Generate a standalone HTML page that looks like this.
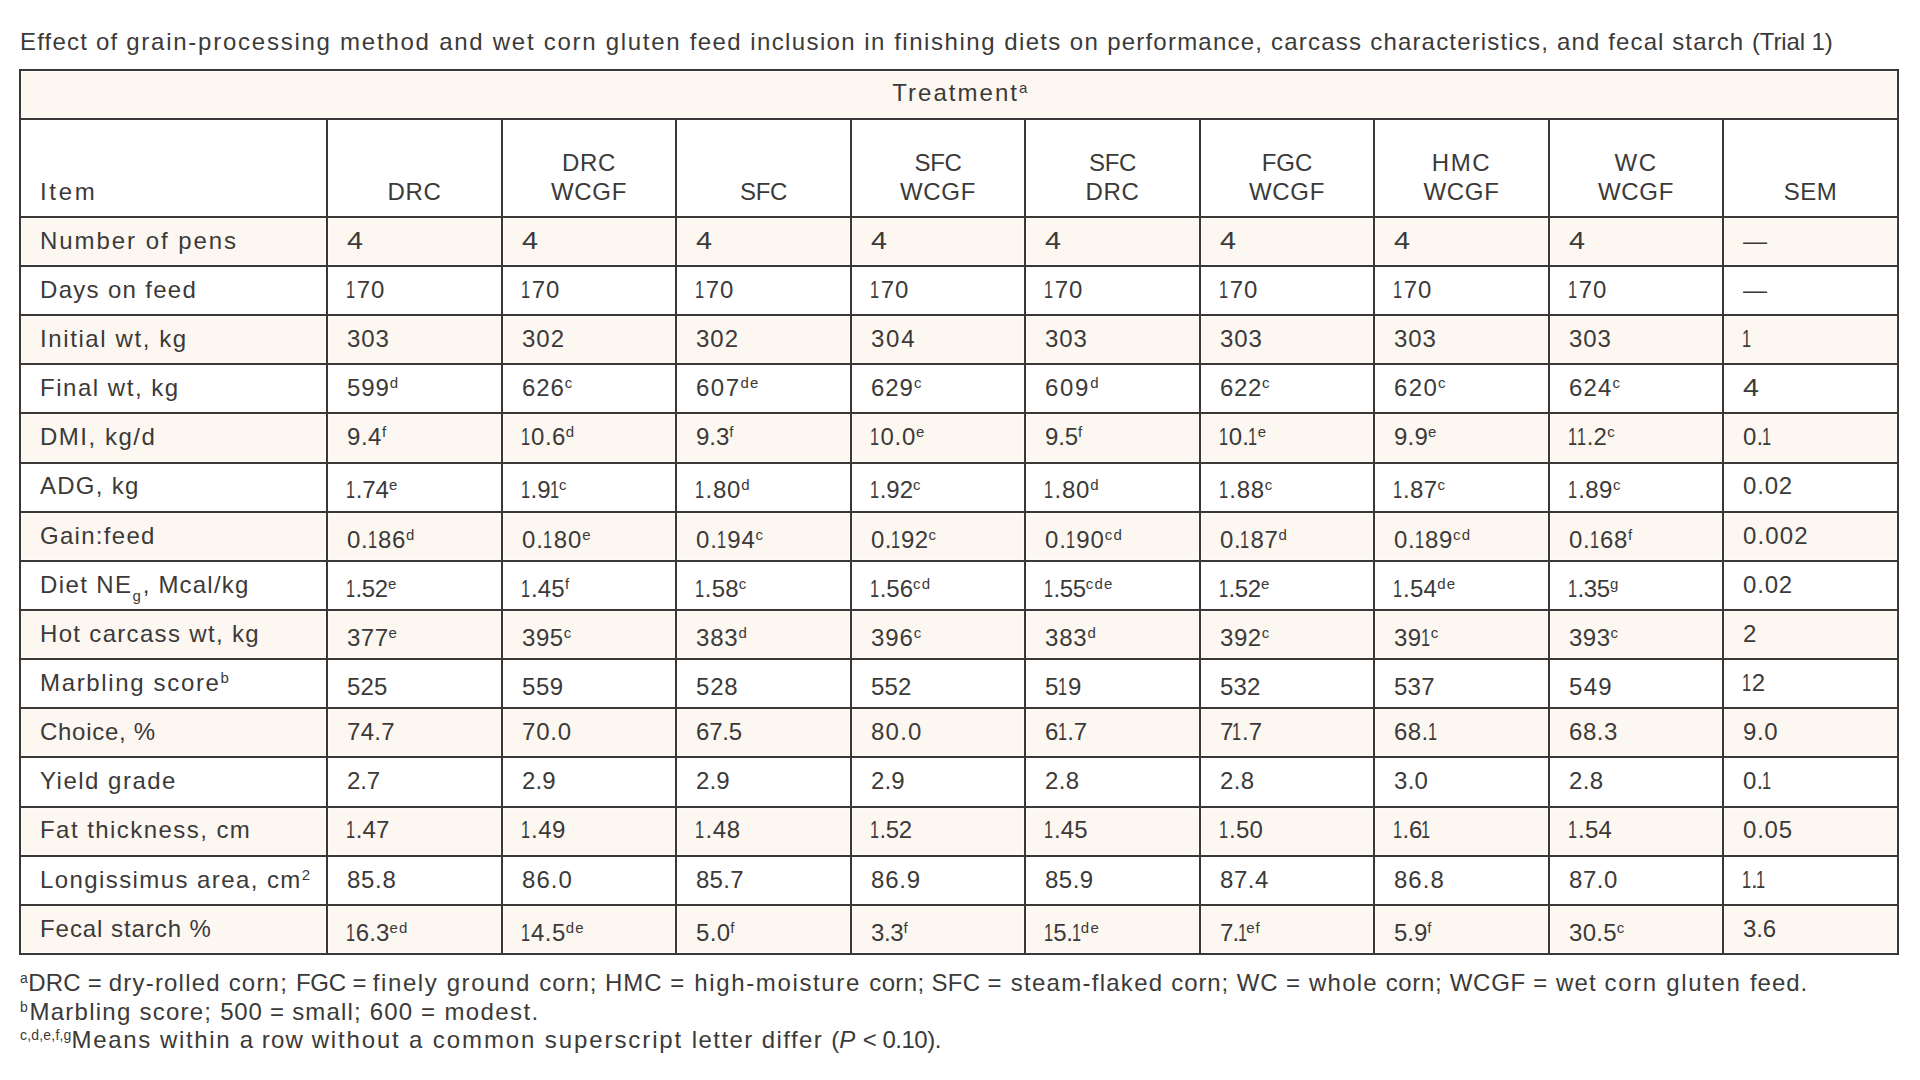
<!DOCTYPE html><html lang="en"><head><meta charset="utf-8"><title>Table</title><style>
html,body{margin:0;padding:0;background:#fff;}
body{width:1920px;height:1080px;position:relative;overflow:hidden;font-family:"Liberation Sans", sans-serif;font-size:24px;color:#3b3a39;}
.cap{position:absolute;left:20px;top:27px;line-height:30px;white-space:nowrap;margin:0;font-weight:normal;font-size:24px;}
table{position:absolute;left:19px;top:69px;border-collapse:separate;border-spacing:0;table-layout:fixed;width:1880px;border-right:2px solid #3a3735;border-bottom:2px solid #3a3735;}
td,th{box-sizing:border-box;padding:0;border-left:2px solid #3a3735;border-top:2px solid #3a3735;position:relative;font-weight:normal;text-align:left;vertical-align:top;overflow:visible;}
tr.s td, tr.s th{background:#fdf7f2;box-shadow:inset 0 0 0 1px rgba(255,255,255,.65);}
.t{position:absolute;white-space:nowrap;line-height:30px;}
.c{left:0;right:0;text-align:center;}
sup,sub{font-size:15px;line-height:0;position:relative;vertical-align:baseline;}
sup{top:-8px;} sub{top:8px;}
.fn sup{font-size:14px;}
.o{display:inline-block;transform:scaleX(.68);transform-origin:0 50%;margin:0 -3.79px 0 -0.9px;}
.w4{display:inline-block;transform:scaleX(1.2);transform-origin:0 50%;}
.fn{position:absolute;left:20px;line-height:30px;white-space:nowrap;margin:0;}
</style></head><body>
<p class="cap"><span class="b" style="letter-spacing:1.190px;">Effect of </span><span class="b" style="letter-spacing:1.755px;">grain-processing method </span><span class="b" style="letter-spacing:1.729px;">and wet </span><span class="b" style="letter-spacing:1.724px;">corn gluten </span><span class="b" style="letter-spacing:1.396px;">feed inclusion </span><span class="b" style="letter-spacing:1.538px;">in finishing </span><span class="b" style="letter-spacing:1.349px;">diets on </span><span class="b" style="letter-spacing:1.222px;">performance, carcass </span><span class="b" style="letter-spacing:1.176px;">characteristics, and </span><span class="b" style="letter-spacing:1.094px;">fecal starch </span><span class="b" style="letter-spacing:-0.130px;">(Trial 1)</span></p>
<table>
<colgroup><col style="width:307px"><col style="width:175px"><col style="width:174px"><col style="width:175px"><col style="width:174px"><col style="width:175px"><col style="width:174px"><col style="width:175px"><col style="width:174px"><col style="width:175px"></colgroup>
<thead><tr class="s" style="height:49px"><th colspan="10" style="height:49px"><div class="t c" style="left:2px;top:7px"><span class="b" style="letter-spacing:2.028px;">Treatment</span><sup style="letter-spacing:0.516px;">a</sup></div></th></tr>
<tr style="height:98px">
<th style="height:98px"><div class="t" style="left:19px;top:57px"><span class="b" style="letter-spacing:2.703px;">Item</span></div></th>
<th style="height:98px"><div class="t c" style="top:57px"><span class="b" style="letter-spacing:0.734px;">DRC</span></div></th>
<th style="height:98px"><div class="t c" style="top:28px"><span class="b" style="letter-spacing:0.734px;">DRC</span></div><div class="t c" style="top:57px"><span class="b" style="letter-spacing:0.691px;">WCGF</span></div></th>
<th style="height:98px"><div class="t c" style="top:57px"><span class="b" style="letter-spacing:-0.411px;">SFC</span></div></th>
<th style="height:98px"><div class="t c" style="top:28px"><span class="b" style="letter-spacing:-0.411px;">SFC</span></div><div class="t c" style="top:57px"><span class="b" style="letter-spacing:0.691px;">WCGF</span></div></th>
<th style="height:98px"><div class="t c" style="top:28px"><span class="b" style="letter-spacing:-0.411px;">SFC</span></div><div class="t c" style="top:57px"><span class="b" style="letter-spacing:0.734px;">DRC</span></div></th>
<th style="height:98px"><div class="t c" style="top:28px"><span class="b" style="letter-spacing:-0.036px;">FGC</span></div><div class="t c" style="top:57px"><span class="b" style="letter-spacing:0.691px;">WCGF</span></div></th>
<th style="height:98px"><div class="t c" style="top:28px"><span class="b" style="letter-spacing:1.599px;">HMC</span></div><div class="t c" style="top:57px"><span class="b" style="letter-spacing:0.691px;">WCGF</span></div></th>
<th style="height:98px"><div class="t c" style="top:28px"><span class="b" style="letter-spacing:1.602px;">WC</span></div><div class="t c" style="top:57px"><span class="b" style="letter-spacing:0.691px;">WCGF</span></div></th>
<th style="height:98px"><div class="t c" style="top:57px"><span class="b" style="letter-spacing:0.578px;">SEM</span></div></th>
</tr></thead><tbody>
<tr class="s" style="height:49px">
<th scope="row" style="height:49px"><div class="t" style="left:19px;top:8px"><span class="b" style="letter-spacing:1.943px;">Number of pens</span></div></th>
<td style="height:49px"><div class="t" style="left:19px;top:8px"><span class="b" style="letter-spacing:2.516px;"><span class="w4">4</span></span></div></td>
<td style="height:49px"><div class="t" style="left:19px;top:8px"><span class="b" style="letter-spacing:2.516px;"><span class="w4">4</span></span></div></td>
<td style="height:49px"><div class="t" style="left:19px;top:8px"><span class="b" style="letter-spacing:2.516px;"><span class="w4">4</span></span></div></td>
<td style="height:49px"><div class="t" style="left:19px;top:8px"><span class="b" style="letter-spacing:2.516px;"><span class="w4">4</span></span></div></td>
<td style="height:49px"><div class="t" style="left:19px;top:8px"><span class="b" style="letter-spacing:2.516px;"><span class="w4">4</span></span></div></td>
<td style="height:49px"><div class="t" style="left:19px;top:8px"><span class="b" style="letter-spacing:2.516px;"><span class="w4">4</span></span></div></td>
<td style="height:49px"><div class="t" style="left:19px;top:8px"><span class="b" style="letter-spacing:2.516px;"><span class="w4">4</span></span></div></td>
<td style="height:49px"><div class="t" style="left:19px;top:8px"><span class="b" style="letter-spacing:2.516px;"><span class="w4">4</span></span></div></td>
<td style="height:49px"><div class="t" style="left:19px;top:8px"><span class="b" style="letter-spacing:0.000px;">—</span></div></td>
</tr>
<tr style="height:49px">
<th scope="row" style="height:49px"><div class="t" style="left:19px;top:8px"><span class="b" style="letter-spacing:1.310px;">Days on feed</span></div></th>
<td style="height:49px"><div class="t" style="left:19px;top:8px"><span class="b" style="letter-spacing:0.954px;"><span class="o">1</span>70</span></div></td>
<td style="height:49px"><div class="t" style="left:19px;top:8px"><span class="b" style="letter-spacing:0.954px;"><span class="o">1</span>70</span></div></td>
<td style="height:49px"><div class="t" style="left:19px;top:8px"><span class="b" style="letter-spacing:0.954px;"><span class="o">1</span>70</span></div></td>
<td style="height:49px"><div class="t" style="left:19px;top:8px"><span class="b" style="letter-spacing:0.954px;"><span class="o">1</span>70</span></div></td>
<td style="height:49px"><div class="t" style="left:19px;top:8px"><span class="b" style="letter-spacing:0.954px;"><span class="o">1</span>70</span></div></td>
<td style="height:49px"><div class="t" style="left:19px;top:8px"><span class="b" style="letter-spacing:0.954px;"><span class="o">1</span>70</span></div></td>
<td style="height:49px"><div class="t" style="left:19px;top:8px"><span class="b" style="letter-spacing:0.954px;"><span class="o">1</span>70</span></div></td>
<td style="height:49px"><div class="t" style="left:19px;top:8px"><span class="b" style="letter-spacing:0.954px;"><span class="o">1</span>70</span></div></td>
<td style="height:49px"><div class="t" style="left:19px;top:8px"><span class="b" style="letter-spacing:0.000px;">—</span></div></td>
</tr>
<tr class="s" style="height:49px">
<th scope="row" style="height:49px"><div class="t" style="left:19px;top:8px"><span class="b" style="letter-spacing:1.596px;">Initial wt, kg</span></div></th>
<td style="height:49px"><div class="t" style="left:19px;top:8px"><span class="b" style="letter-spacing:0.896px;">303</span></div></td>
<td style="height:49px"><div class="t" style="left:19px;top:8px"><span class="b" style="letter-spacing:1.005px;">302</span></div></td>
<td style="height:49px"><div class="t" style="left:19px;top:8px"><span class="b" style="letter-spacing:1.005px;">302</span></div></td>
<td style="height:49px"><div class="t" style="left:19px;top:8px"><span class="b" style="letter-spacing:1.750px;">304</span></div></td>
<td style="height:49px"><div class="t" style="left:19px;top:8px"><span class="b" style="letter-spacing:0.896px;">303</span></div></td>
<td style="height:49px"><div class="t" style="left:19px;top:8px"><span class="b" style="letter-spacing:0.896px;">303</span></div></td>
<td style="height:49px"><div class="t" style="left:19px;top:8px"><span class="b" style="letter-spacing:0.896px;">303</span></div></td>
<td style="height:49px"><div class="t" style="left:19px;top:8px"><span class="b" style="letter-spacing:0.896px;">303</span></div></td>
<td style="height:49px"><div class="t" style="left:19px;top:8px"><span class="b" style="letter-spacing:0.003px;"><span class="o">1</span></span></div></td>
</tr>
<tr style="height:49px">
<th scope="row" style="height:49px"><div class="t" style="left:19px;top:8px"><span class="b" style="letter-spacing:1.526px;">Final wt, kg</span></div></th>
<td style="height:49px"><div class="t" style="left:19px;top:8px"><span class="b" style="letter-spacing:0.927px;">599</span><sup style="letter-spacing:1.828px;">d</sup></div></td>
<td style="height:49px"><div class="t" style="left:19px;top:8px"><span class="b" style="letter-spacing:0.922px;">626</span><sup style="letter-spacing:0.953px;">c</sup></div></td>
<td style="height:49px"><div class="t" style="left:19px;top:8px"><span class="b" style="letter-spacing:1.474px;">607</span><sup style="letter-spacing:1.273px;">de</sup></div></td>
<td style="height:49px"><div class="t" style="left:19px;top:8px"><span class="b" style="letter-spacing:0.943px;">629</span><sup style="letter-spacing:0.953px;">c</sup></div></td>
<td style="height:49px"><div class="t" style="left:19px;top:8px"><span class="b" style="letter-spacing:1.693px;">609</span><sup style="letter-spacing:1.828px;">d</sup></div></td>
<td style="height:49px"><div class="t" style="left:19px;top:8px"><span class="b" style="letter-spacing:0.615px;">622</span><sup style="letter-spacing:0.953px;">c</sup></div></td>
<td style="height:49px"><div class="t" style="left:19px;top:8px"><span class="b" style="letter-spacing:1.349px;">620</span><sup style="letter-spacing:0.953px;">c</sup></div></td>
<td style="height:49px"><div class="t" style="left:19px;top:8px"><span class="b" style="letter-spacing:1.177px;">624</span><sup style="letter-spacing:0.953px;">c</sup></div></td>
<td style="height:49px"><div class="t" style="left:19px;top:8px"><span class="b" style="letter-spacing:2.516px;"><span class="w4">4</span></span></div></td>
</tr>
<tr class="s" style="height:50px">
<th scope="row" style="height:50px"><div class="t" style="left:19px;top:8px"><span class="b" style="letter-spacing:1.516px;">DMI, kg/d</span></div></th>
<td style="height:50px"><div class="t" style="left:19px;top:8px"><span class="b" style="letter-spacing:0.542px;">9.4</span><sup style="letter-spacing:0.922px;">f</sup></div></td>
<td style="height:50px"><div class="t" style="left:19px;top:8px"><span class="b" style="letter-spacing:0.426px;"><span class="o">1</span>0.6</span><sup style="letter-spacing:1.828px;">d</sup></div></td>
<td style="height:50px"><div class="t" style="left:19px;top:8px"><span class="b" style="letter-spacing:-0.052px;">9.3</span><sup style="letter-spacing:0.922px;">f</sup></div></td>
<td style="height:50px"><div class="t" style="left:19px;top:8px"><span class="b" style="letter-spacing:0.743px;"><span class="o">1</span>0.0</span><sup style="letter-spacing:0.719px;">e</sup></div></td>
<td style="height:50px"><div class="t" style="left:19px;top:8px"><span class="b" style="letter-spacing:-0.115px;">9.5</span><sup style="letter-spacing:0.922px;">f</sup></div></td>
<td style="height:50px"><div class="t" style="left:19px;top:8px"><span class="b" style="letter-spacing:0.103px;"><span class="o">1</span>0.<span class="o">1</span></span><sup style="letter-spacing:0.719px;">e</sup></div></td>
<td style="height:50px"><div class="t" style="left:19px;top:8px"><span class="b" style="letter-spacing:0.229px;">9.9</span><sup style="letter-spacing:0.719px;">e</sup></div></td>
<td style="height:50px"><div class="t" style="left:19px;top:8px"><span class="b" style="letter-spacing:0.185px;"><span class="o">1</span><span class="o">1</span>.2</span><sup style="letter-spacing:0.953px;">c</sup></div></td>
<td style="height:50px"><div class="t" style="left:19px;top:8px"><span class="b" style="letter-spacing:0.136px;">0.<span class="o">1</span></span></div></td>
</tr>
<tr style="height:49px">
<th scope="row" style="height:49px"><div class="t" style="left:19px;top:7px"><span class="b" style="letter-spacing:1.257px;">ADG, kg</span></div></th>
<td style="height:49px"><div class="t" style="left:19px;top:11px"><span class="b" style="letter-spacing:-0.031px;"><span class="o">1</span>.74</span><sup style="letter-spacing:0.719px;">e</sup></div></td>
<td style="height:49px"><div class="t" style="left:19px;top:11px"><span class="b" style="letter-spacing:-0.073px;"><span class="o">1</span>.9<span class="o">1</span></span><sup style="letter-spacing:0.953px;">c</sup></div></td>
<td style="height:49px"><div class="t" style="left:19px;top:11px"><span class="b" style="letter-spacing:0.794px;"><span class="o">1</span>.80</span><sup style="letter-spacing:1.828px;">d</sup></div></td>
<td style="height:49px"><div class="t" style="left:19px;top:11px"><span class="b" style="letter-spacing:-0.007px;"><span class="o">1</span>.92</span><sup style="letter-spacing:0.953px;">c</sup></div></td>
<td style="height:49px"><div class="t" style="left:19px;top:11px"><span class="b" style="letter-spacing:0.794px;"><span class="o">1</span>.80</span><sup style="letter-spacing:1.828px;">d</sup></div></td>
<td style="height:49px"><div class="t" style="left:19px;top:11px"><span class="b" style="letter-spacing:0.649px;"><span class="o">1</span>.88</span><sup style="letter-spacing:0.953px;">c</sup></div></td>
<td style="height:49px"><div class="t" style="left:19px;top:11px"><span class="b" style="letter-spacing:0.356px;"><span class="o">1</span>.87</span><sup style="letter-spacing:0.953px;">c</sup></div></td>
<td style="height:49px"><div class="t" style="left:19px;top:11px"><span class="b" style="letter-spacing:0.473px;"><span class="o">1</span>.89</span><sup style="letter-spacing:0.953px;">c</sup></div></td>
<td style="height:49px"><div class="t" style="left:19px;top:7px"><span class="b" style="letter-spacing:0.812px;">0.02</span></div></td>
</tr>
<tr class="s" style="height:49px">
<th scope="row" style="height:49px"><div class="t" style="left:19px;top:8px"><span class="b" style="letter-spacing:1.288px;">Gain:feed</span></div></th>
<td style="height:49px"><div class="t" style="left:19px;top:12px"><span class="b" style="letter-spacing:0.729px;">0.<span class="o">1</span>86</span><sup style="letter-spacing:1.828px;">d</sup></div></td>
<td style="height:49px"><div class="t" style="left:19px;top:12px"><span class="b" style="letter-spacing:0.982px;">0.<span class="o">1</span>80</span><sup style="letter-spacing:0.719px;">e</sup></div></td>
<td style="height:49px"><div class="t" style="left:19px;top:12px"><span class="b" style="letter-spacing:0.838px;">0.<span class="o">1</span>94</span><sup style="letter-spacing:0.953px;">c</sup></div></td>
<td style="height:49px"><div class="t" style="left:19px;top:12px"><span class="b" style="letter-spacing:0.391px;">0.<span class="o">1</span>92</span><sup style="letter-spacing:0.953px;">c</sup></div></td>
<td style="height:49px"><div class="t" style="left:19px;top:12px"><span class="b" style="letter-spacing:0.844px;">0.<span class="o">1</span>90</span><sup style="letter-spacing:1.320px;">cd</sup></div></td>
<td style="height:49px"><div class="t" style="left:19px;top:12px"><span class="b" style="letter-spacing:0.632px;">0.<span class="o">1</span>87</span><sup style="letter-spacing:1.828px;">d</sup></div></td>
<td style="height:49px"><div class="t" style="left:19px;top:12px"><span class="b" style="letter-spacing:0.729px;">0.<span class="o">1</span>89</span><sup style="letter-spacing:1.320px;">cd</sup></div></td>
<td style="height:49px"><div class="t" style="left:19px;top:12px"><span class="b" style="letter-spacing:0.729px;">0.<span class="o">1</span>68</span><sup style="letter-spacing:0.922px;">f</sup></div></td>
<td style="height:49px"><div class="t" style="left:19px;top:8px"><span class="b" style="letter-spacing:1.159px;">0.002</span></div></td>
</tr>
<tr style="height:49px">
<th scope="row" style="height:49px"><div class="t" style="left:19px;top:8px"><span class="b" style="letter-spacing:1.386px;">Diet NE</span><sub style="letter-spacing:1.938px;">g</sub><span class="b" style="letter-spacing:1.205px;">, Mcal/kg</span></div></th>
<td style="height:49px"><div class="t" style="left:19px;top:12px"><span class="b" style="letter-spacing:-0.292px;"><span class="o">1</span>.52</span><sup style="letter-spacing:0.719px;">e</sup></div></td>
<td style="height:49px"><div class="t" style="left:19px;top:12px"><span class="b" style="letter-spacing:0.208px;"><span class="o">1</span>.45</span><sup style="letter-spacing:0.922px;">f</sup></div></td>
<td style="height:49px"><div class="t" style="left:19px;top:12px"><span class="b" style="letter-spacing:0.157px;"><span class="o">1</span>.58</span><sup style="letter-spacing:0.953px;">c</sup></div></td>
<td style="height:49px"><div class="t" style="left:19px;top:12px"><span class="b" style="letter-spacing:-0.019px;"><span class="o">1</span>.56</span><sup style="letter-spacing:1.320px;">cd</sup></div></td>
<td style="height:49px"><div class="t" style="left:19px;top:12px"><span class="b" style="letter-spacing:-0.304px;"><span class="o">1</span>.55</span><sup style="letter-spacing:1.120px;">cde</sup></div></td>
<td style="height:49px"><div class="t" style="left:19px;top:12px"><span class="b" style="letter-spacing:-0.292px;"><span class="o">1</span>.52</span><sup style="letter-spacing:0.719px;">e</sup></div></td>
<td style="height:49px"><div class="t" style="left:19px;top:12px"><span class="b" style="letter-spacing:0.294px;"><span class="o">1</span>.54</span><sup style="letter-spacing:1.273px;">de</sup></div></td>
<td style="height:49px"><div class="t" style="left:19px;top:12px"><span class="b" style="letter-spacing:-0.288px;"><span class="o">1</span>.35</span><sup style="letter-spacing:1.938px;">g</sup></div></td>
<td style="height:49px"><div class="t" style="left:19px;top:8px"><span class="b" style="letter-spacing:0.812px;">0.02</span></div></td>
</tr>
<tr class="s" style="height:49px">
<th scope="row" style="height:49px"><div class="t" style="left:19px;top:8px"><span class="b" style="letter-spacing:1.323px;">Hot carcass wt, kg</span></div></th>
<td style="height:49px"><div class="t" style="left:19px;top:12px"><span class="b" style="letter-spacing:0.490px;">377</span><sup style="letter-spacing:0.719px;">e</sup></div></td>
<td style="height:49px"><div class="t" style="left:19px;top:12px"><span class="b" style="letter-spacing:0.568px;">395</span><sup style="letter-spacing:0.953px;">c</sup></div></td>
<td style="height:49px"><div class="t" style="left:19px;top:12px"><span class="b" style="letter-spacing:0.781px;">383</span><sup style="letter-spacing:1.828px;">d</sup></div></td>
<td style="height:49px"><div class="t" style="left:19px;top:12px"><span class="b" style="letter-spacing:0.911px;">396</span><sup style="letter-spacing:0.953px;">c</sup></div></td>
<td style="height:49px"><div class="t" style="left:19px;top:12px"><span class="b" style="letter-spacing:0.781px;">383</span><sup style="letter-spacing:1.828px;">d</sup></div></td>
<td style="height:49px"><div class="t" style="left:19px;top:12px"><span class="b" style="letter-spacing:0.583px;">392</span><sup style="letter-spacing:0.953px;">c</sup></div></td>
<td style="height:49px"><div class="t" style="left:19px;top:12px"><span class="b" style="letter-spacing:0.490px;">39<span class="o">1</span></span><sup style="letter-spacing:0.953px;">c</sup></div></td>
<td style="height:49px"><div class="t" style="left:19px;top:12px"><span class="b" style="letter-spacing:0.469px;">393</span><sup style="letter-spacing:0.953px;">c</sup></div></td>
<td style="height:49px"><div class="t" style="left:19px;top:8px"><span class="b" style="letter-spacing:0.281px;">2</span></div></td>
</tr>
<tr style="height:49px">
<th scope="row" style="height:49px"><div class="t" style="left:19px;top:8px"><span class="b" style="letter-spacing:1.652px;">Marbling score</span><sup style="letter-spacing:1.828px;">b</sup></div></th>
<td style="height:49px"><div class="t" style="left:19px;top:12px"><span class="b" style="letter-spacing:0.214px;">525</span></div></td>
<td style="height:49px"><div class="t" style="left:19px;top:12px"><span class="b" style="letter-spacing:0.542px;">559</span></div></td>
<td style="height:49px"><div class="t" style="left:19px;top:12px"><span class="b" style="letter-spacing:0.792px;">528</span></div></td>
<td style="height:49px"><div class="t" style="left:19px;top:12px"><span class="b" style="letter-spacing:0.172px;">552</span></div></td>
<td style="height:49px"><div class="t" style="left:19px;top:12px"><span class="b" style="letter-spacing:0.506px;">5<span class="o">1</span>9</span></div></td>
<td style="height:49px"><div class="t" style="left:19px;top:12px"><span class="b" style="letter-spacing:0.156px;">532</span></div></td>
<td style="height:49px"><div class="t" style="left:19px;top:12px"><span class="b" style="letter-spacing:0.266px;">537</span></div></td>
<td style="height:49px"><div class="t" style="left:19px;top:12px"><span class="b" style="letter-spacing:1.281px;">549</span></div></td>
<td style="height:49px"><div class="t" style="left:19px;top:8px"><span class="b" style="letter-spacing:0.142px;"><span class="o">1</span>2</span></div></td>
</tr>
<tr class="s" style="height:49px">
<th scope="row" style="height:49px"><div class="t" style="left:19px;top:8px"><span class="b" style="letter-spacing:0.714px;">Choice, %</span></div></th>
<td style="height:49px"><div class="t" style="left:19px;top:8px"><span class="b" style="letter-spacing:0.285px;">74.7</span></div></td>
<td style="height:49px"><div class="t" style="left:19px;top:8px"><span class="b" style="letter-spacing:0.820px;">70.0</span></div></td>
<td style="height:49px"><div class="t" style="left:19px;top:8px"><span class="b" style="letter-spacing:-0.184px;">67.5</span></div></td>
<td style="height:49px"><div class="t" style="left:19px;top:8px"><span class="b" style="letter-spacing:1.234px;">80.0</span></div></td>
<td style="height:49px"><div class="t" style="left:19px;top:8px"><span class="b" style="letter-spacing:0.047px;">6<span class="o">1</span>.7</span></div></td>
<td style="height:49px"><div class="t" style="left:19px;top:8px"><span class="b" style="letter-spacing:-0.011px;">7<span class="o">1</span>.7</span></div></td>
<td style="height:49px"><div class="t" style="left:19px;top:8px"><span class="b" style="letter-spacing:0.403px;">68.<span class="o">1</span></span></div></td>
<td style="height:49px"><div class="t" style="left:19px;top:8px"><span class="b" style="letter-spacing:0.582px;">68.3</span></div></td>
<td style="height:49px"><div class="t" style="left:19px;top:8px"><span class="b" style="letter-spacing:0.562px;">9.0</span></div></td>
</tr>
<tr style="height:50px">
<th scope="row" style="height:50px"><div class="t" style="left:19px;top:8px"><span class="b" style="letter-spacing:1.493px;">Yield grade</span></div></th>
<td style="height:50px"><div class="t" style="left:19px;top:8px"><span class="b" style="letter-spacing:-0.188px;">2.7</span></div></td>
<td style="height:50px"><div class="t" style="left:19px;top:8px"><span class="b" style="letter-spacing:0.068px;">2.9</span></div></td>
<td style="height:50px"><div class="t" style="left:19px;top:8px"><span class="b" style="letter-spacing:0.068px;">2.9</span></div></td>
<td style="height:50px"><div class="t" style="left:19px;top:8px"><span class="b" style="letter-spacing:0.068px;">2.9</span></div></td>
<td style="height:50px"><div class="t" style="left:19px;top:8px"><span class="b" style="letter-spacing:0.380px;">2.8</span></div></td>
<td style="height:50px"><div class="t" style="left:19px;top:8px"><span class="b" style="letter-spacing:0.380px;">2.8</span></div></td>
<td style="height:50px"><div class="t" style="left:19px;top:8px"><span class="b" style="letter-spacing:0.292px;">3.0</span></div></td>
<td style="height:50px"><div class="t" style="left:19px;top:8px"><span class="b" style="letter-spacing:0.380px;">2.8</span></div></td>
<td style="height:50px"><div class="t" style="left:19px;top:8px"><span class="b" style="letter-spacing:0.136px;">0.<span class="o">1</span></span></div></td>
</tr>
<tr class="s" style="height:49px">
<th scope="row" style="height:49px"><div class="t" style="left:19px;top:7px"><span class="b" style="letter-spacing:1.446px;">Fat thickness, cm</span></div></th>
<td style="height:49px"><div class="t" style="left:19px;top:7px"><span class="b" style="letter-spacing:0.059px;"><span class="o">1</span>.47</span></div></td>
<td style="height:49px"><div class="t" style="left:19px;top:7px"><span class="b" style="letter-spacing:0.430px;"><span class="o">1</span>.49</span></div></td>
<td style="height:49px"><div class="t" style="left:19px;top:7px"><span class="b" style="letter-spacing:0.712px;"><span class="o">1</span>.48</span></div></td>
<td style="height:49px"><div class="t" style="left:19px;top:7px"><span class="b" style="letter-spacing:-0.292px;"><span class="o">1</span>.52</span></div></td>
<td style="height:49px"><div class="t" style="left:19px;top:7px"><span class="b" style="letter-spacing:0.208px;"><span class="o">1</span>.45</span></div></td>
<td style="height:49px"><div class="t" style="left:19px;top:7px"><span class="b" style="letter-spacing:0.301px;"><span class="o">1</span>.50</span></div></td>
<td style="height:49px"><div class="t" style="left:19px;top:7px"><span class="b" style="letter-spacing:-0.143px;"><span class="o">1</span>.6<span class="o">1</span></span></div></td>
<td style="height:49px"><div class="t" style="left:19px;top:7px"><span class="b" style="letter-spacing:0.294px;"><span class="o">1</span>.54</span></div></td>
<td style="height:49px"><div class="t" style="left:19px;top:7px"><span class="b" style="letter-spacing:0.801px;">0.05</span></div></td>
</tr>
<tr style="height:49px">
<th scope="row" style="height:49px"><div class="t" style="left:19px;top:8px"><span class="b" style="letter-spacing:1.414px;">Longissimus area, cm</span><sup style="letter-spacing:0.188px;">2</sup></div></th>
<td style="height:49px"><div class="t" style="left:19px;top:8px"><span class="b" style="letter-spacing:0.707px;">85.8</span></div></td>
<td style="height:49px"><div class="t" style="left:19px;top:8px"><span class="b" style="letter-spacing:1.043px;">86.0</span></div></td>
<td style="height:49px"><div class="t" style="left:19px;top:8px"><span class="b" style="letter-spacing:0.277px;">85.7</span></div></td>
<td style="height:49px"><div class="t" style="left:19px;top:8px"><span class="b" style="letter-spacing:0.789px;">86.9</span></div></td>
<td style="height:49px"><div class="t" style="left:19px;top:8px"><span class="b" style="letter-spacing:0.473px;">85.9</span></div></td>
<td style="height:49px"><div class="t" style="left:19px;top:8px"><span class="b" style="letter-spacing:0.531px;">87.4</span></div></td>
<td style="height:49px"><div class="t" style="left:19px;top:8px"><span class="b" style="letter-spacing:1.023px;">86.8</span></div></td>
<td style="height:49px"><div class="t" style="left:19px;top:8px"><span class="b" style="letter-spacing:0.547px;">87.0</span></div></td>
<td style="height:49px"><div class="t" style="left:19px;top:8px"><span class="b" style="letter-spacing:-0.623px;"><span class="o">1</span>.<span class="o">1</span></span></div></td>
</tr>
<tr class="s" style="height:49px">
<th scope="row" style="height:49px"><div class="t" style="left:19px;top:8px"><span class="b" style="letter-spacing:0.940px;">Fecal starch %</span></div></th>
<td style="height:49px"><div class="t" style="left:19px;top:12px"><span class="b" style="letter-spacing:0.090px;"><span class="o">1</span>6.3</span><sup style="letter-spacing:1.273px;">ed</sup></div></td>
<td style="height:49px"><div class="t" style="left:19px;top:12px"><span class="b" style="letter-spacing:0.415px;"><span class="o">1</span>4.5</span><sup style="letter-spacing:1.273px;">de</sup></div></td>
<td style="height:49px"><div class="t" style="left:19px;top:12px"><span class="b" style="letter-spacing:0.307px;">5.0</span><sup style="letter-spacing:0.922px;">f</sup></div></td>
<td style="height:49px"><div class="t" style="left:19px;top:12px"><span class="b" style="letter-spacing:-0.323px;">3.3</span><sup style="letter-spacing:0.922px;">f</sup></div></td>
<td style="height:49px"><div class="t" style="left:19px;top:12px"><span class="b" style="letter-spacing:-0.405px;"><span class="o">1</span>5.<span class="o">1</span></span><sup style="letter-spacing:1.273px;">de</sup></div></td>
<td style="height:49px"><div class="t" style="left:19px;top:12px"><span class="b" style="letter-spacing:-0.786px;">7.<span class="o">1</span></span><sup style="letter-spacing:0.820px;">ef</sup></div></td>
<td style="height:49px"><div class="t" style="left:19px;top:12px"><span class="b" style="letter-spacing:-0.026px;">5.9</span><sup style="letter-spacing:0.922px;">f</sup></div></td>
<td style="height:49px"><div class="t" style="left:19px;top:12px"><span class="b" style="letter-spacing:0.281px;">30.5</span><sup style="letter-spacing:0.953px;">c</sup></div></td>
<td style="height:49px"><div class="t" style="left:19px;top:8px"><span class="b" style="letter-spacing:-0.130px;">3.6</span></div></td>
</tr>
</tbody></table>
<p class="fn" style="top:968px"><sup style="letter-spacing:0.469px;">a</sup><span class="b" style="letter-spacing:0.188px;">DRC = </span><span class="b" style="letter-spacing:1.200px;">dry-rolled corn; </span><span class="b" style="letter-spacing:-0.194px;">FGC = </span><span class="b" style="letter-spacing:1.602px;">finely ground </span><span class="b" style="letter-spacing:0.962px;">corn; HMC </span><span class="b" style="letter-spacing:1.643px;">= high-moisture </span><span class="b" style="letter-spacing:0.360px;">corn; SFC </span><span class="b" style="letter-spacing:1.265px;">= steam-flaked </span><span class="b" style="letter-spacing:0.894px;">corn; WC </span><span class="b" style="letter-spacing:1.191px;">= whole </span><span class="b" style="letter-spacing:0.688px;">corn; WCGF </span><span class="b" style="letter-spacing:1.096px;">= wet </span><span class="b" style="letter-spacing:1.670px;">corn gluten </span><span class="b" style="letter-spacing:0.965px;">feed.</span></p>
<p class="fn" style="top:997px"><sup style="letter-spacing:1.703px;">b</sup><span class="b" style="letter-spacing:1.245px;">Marbling score; </span><span class="b" style="letter-spacing:0.771px;">500 = </span><span class="b" style="letter-spacing:1.160px;">small; 600 </span><span class="b" style="letter-spacing:1.395px;">= modest.</span></p>
<p class="fn" style="top:1025px"><sup style="letter-spacing:0.194px;">c,d,e,f,g</sup><span class="b" style="letter-spacing:1.641px;">Means within </span><span class="b" style="letter-spacing:1.104px;">a row </span><span class="b" style="letter-spacing:1.847px;">without a </span><span class="b" style="letter-spacing:1.905px;">common superscript </span><span class="b" style="letter-spacing:1.426px;">letter differ </span><span class="b" style="letter-spacing:-0.078px;">(</span><i style="letter-spacing:1.219px;">P</i><span class="b" style="letter-spacing:-0.490px;"> &lt; 0.10).</span></p>
</body></html>
